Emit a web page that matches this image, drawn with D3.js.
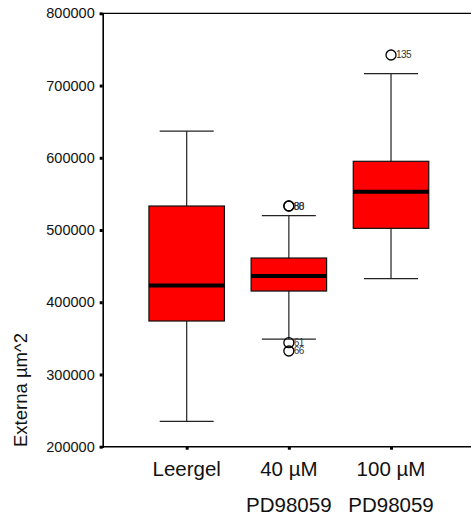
<!DOCTYPE html>
<html>
<head>
<meta charset="utf-8">
<script src="https://cdn.jsdelivr.net/npm/d3@7"></script>
<style>
  body { margin: 0; background: #fff; }
  svg { display: block; font-family: "Liberation Sans", Arial, sans-serif; }
</style>
</head>
<body>
<svg id="chart" width="471" height="521"></svg>
<script>
// values
var categories = ["Leergel", "40 µM", "100 µM"];
var subLabels = ["", "PD98059", "PD98059"];
var whiskerLow = [235000, 349000, 432600];
var q1 = [374000, 415500, 502300];
var median = [423000, 436300, 553000];
var q3 = [533200, 461200, 595100];
var whiskerHigh = [637000, 519800, 716400];
// outliers: [category index, value, case label]
var outliers = [
  [1, 533200, "80"],
  [1, 533200, "88"],
  [1, 344000, "61"],
  [1, 332500, "66"],
  [2, 742300, "135"]
];
var yTicks = [200000, 300000, 400000, 500000, 600000, 700000, 800000];

var svg = d3.select("#chart");
var plotLeft = 102.7, plotTop = 13.3, plotBottom = 446.7;

var x = d3.scalePoint()
    .domain(categories)
    .range([plotLeft, 475])
    .padding(0.822);

var y = d3.scaleLinear()
    .domain([200000, 800000])
    .range([plotBottom, plotTop]);

var boxW = 75.5, capW = 54;

// frame top line
svg.append("line")
    .attr("x1", plotLeft).attr("x2", 471)
    .attr("y1", plotTop).attr("y2", plotTop)
    .attr("stroke", "#000").attr("stroke-width", 1.3);

// y axis
var yAxis = svg.append("g")
    .attr("transform", "translate(" + plotLeft + ",0)")
    .call(d3.axisLeft(y).tickValues(yTicks).tickSize(3).tickFormat(d3.format("d")));
yAxis.select(".domain").attr("stroke", "#000").attr("stroke-width", 1.6);
yAxis.selectAll(".tick line").attr("stroke", "#000").attr("stroke-width", 3);
yAxis.selectAll(".tick text")
    .attr("x", -8)
    .attr("font-size", 14.5)
    .attr("font-family", "Liberation Sans, Arial, sans-serif")
    .attr("fill", "#111");

// x axis
var xAxis = svg.append("g")
    .attr("transform", "translate(0," + plotBottom + ")")
    .call(d3.axisBottom(x).tickSize(3).tickFormat(""));
xAxis.select(".domain").remove();
xAxis.selectAll(".tick line").attr("stroke", "#000").attr("stroke-width", 3);
svg.append("line")
    .attr("x1", plotLeft - 1).attr("x2", 471)
    .attr("y1", plotBottom).attr("y2", plotBottom)
    .attr("stroke", "#000").attr("stroke-width", 1.6);

// category labels
svg.append("g").selectAll("text")
    .data(categories)
    .join("text")
    .attr("x", d => x(d))
    .attr("y", 476)
    .attr("text-anchor", "middle")
    .attr("font-size", 20.5)
    .attr("fill", "#111")
    .text(d => d);

svg.append("g").selectAll("text")
    .data(subLabels)
    .join("text")
    .attr("x", (d, i) => x(categories[i]))
    .attr("y", 512)
    .attr("text-anchor", "middle")
    .attr("font-size", 20.5)
    .attr("fill", "#111")
    .text(d => d);

// y label
svg.append("text")
    .attr("transform", "translate(27,447) rotate(-90)")
    .attr("font-size", 18.5)
    .attr("fill", "#111")
    .text("Externa µm^2");

// boxes
var boxes = svg.append("g").selectAll("g")
    .data(categories)
    .join("g");

boxes.append("line")
    .attr("x1", d => x(d)).attr("x2", d => x(d))
    .attr("y1", (d, i) => y(whiskerHigh[i]))
    .attr("y2", (d, i) => y(whiskerLow[i]))
    .attr("stroke", "#222").attr("stroke-width", 1.2);

boxes.append("line")
    .attr("x1", d => x(d) - capW / 2).attr("x2", d => x(d) + capW / 2)
    .attr("y1", (d, i) => y(whiskerHigh[i]))
    .attr("y2", (d, i) => y(whiskerHigh[i]))
    .attr("stroke", "#222").attr("stroke-width", 1.2);

boxes.append("line")
    .attr("x1", d => x(d) - capW / 2).attr("x2", d => x(d) + capW / 2)
    .attr("y1", (d, i) => y(whiskerLow[i]))
    .attr("y2", (d, i) => y(whiskerLow[i]))
    .attr("stroke", "#222").attr("stroke-width", 1.2);

boxes.append("rect")
    .attr("x", d => x(d) - boxW / 2)
    .attr("width", boxW)
    .attr("y", (d, i) => y(q3[i]))
    .attr("height", (d, i) => y(q1[i]) - y(q3[i]))
    .attr("fill", "#ff0000")
    .attr("stroke", "#111").attr("stroke-width", 1.2);

boxes.append("line")
    .attr("x1", d => x(d) - boxW / 2).attr("x2", d => x(d) + boxW / 2)
    .attr("y1", (d, i) => y(median[i]))
    .attr("y2", (d, i) => y(median[i]))
    .attr("stroke", "#000").attr("stroke-width", 4);

// outliers
var out = svg.append("g").selectAll("g")
    .data(outliers)
    .join("g");

out.append("circle")
    .attr("cx", d => x(categories[d[0]]))
    .attr("cy", d => y(d[1]))
    .attr("r", 5)
    .attr("fill", "none")
    .attr("stroke", "#000").attr("stroke-width", 1.3);

out.append("text")
    .attr("x", d => x(categories[d[0]]) + 5)
    .attr("y", d => y(d[1]) + 3.5)
    .attr("font-size", 10)
    .attr("letter-spacing", -0.6)
    .attr("fill", "#333")
    .text(d => d[2]);
</script>
</body>
</html>
